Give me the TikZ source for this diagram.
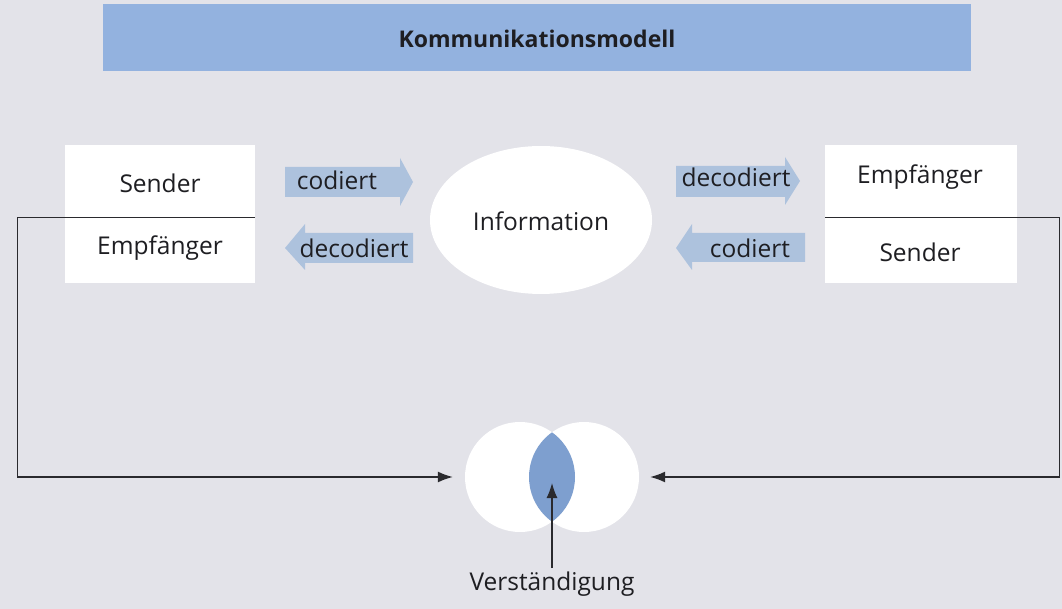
\documentclass[tikz,border=0pt]{standalone}
\usepackage{fontspec}
\setmainfont{Open Sans}
\usetikzlibrary{arrows.meta}
\definecolor{bgc}{HTML}{E3E3E9}
\definecolor{barc}{HTML}{93B2DF}
\definecolor{arrc}{HTML}{ADC2DD}
\definecolor{lensc}{HTML}{7E9FCF}
\definecolor{txtc}{HTML}{1E1E22}
\definecolor{linec}{HTML}{2A2A2E}
\tikzset{
  lbl/.style={anchor=base, inner sep=0pt, text=txtc, font=\fontsize{24.5}{29}\selectfont},
  ttl/.style={anchor=base, inner sep=0pt, text=txtc, font=\bfseries\fontsize{23}{28}\selectfont},
  boxhalf/.style={rectangle, fill=white, draw=none, minimum width=190pt, inner sep=0pt},
  conn/.style={draw=linec, line width=1.3pt},
  tip/.style={-{Latex[length=15pt, width=11pt]}},
  blob/.style={circle, fill=white, minimum size=110pt, inner sep=0pt},
  flow/.style={fill=arrc, draw=none}
}
\begin{document}
\begin{tikzpicture}[x=1pt, y=-1pt]
\useasboundingbox (0,0) rectangle (1062,609);
\fill[bgc] (0,0) rectangle (1062,609);
% title bar
\node[rectangle, fill=barc, minimum width=868pt, minimum height=67pt, inner sep=0pt] (bar) at (537,38) {};
\node[ttl] (title) at (537,48) {Kommunikationsmodell};
% boxes
\node[boxhalf, minimum height=72pt] (ltop) at (160,181) {};
\node[boxhalf, minimum height=66pt] (lbot) at (160,250) {};
\node[boxhalf, minimum width=192pt, minimum height=72pt] (rtop) at (921,181) {};
\node[boxhalf, minimum width=192pt, minimum height=66pt] (rbot) at (921,250) {};
\node[lbl] (lsender) at (160,193) {Sender};
\node[lbl] (lempf) at (160,255) {Empfänger};
\node[lbl] (rempf) at (920,184) {Empfänger};
\node[lbl] (rsender) at (920,262) {Sender};
% information ellipse
\fill[white] (541,220) ellipse [x radius=111, y radius=74];
\node[lbl] (info) at (541,231) {Information};
% flow arrows
\fill[flow] (285,167) -- (400,167) -- (400,158) -- (413,182) -- (400,206) -- (400,197) -- (285,197) -- cycle;
\fill[flow] (413,233) -- (305,233) -- (305,224) -- (285,248) -- (305,270) -- (305,263) -- (413,263) -- cycle;
\fill[flow] (676,166) -- (785,166) -- (785,157) -- (800,181) -- (785,205) -- (785,197) -- (676,197) -- cycle;
\fill[flow] (805,233) -- (692,233) -- (692,224) -- (676,248) -- (692,270) -- (692,262) -- (805,262) -- cycle;
\node[lbl] (lcod) at (337,190) {codiert};
\node[lbl] (ldec) at (354,258) {decodiert};
\node[lbl] (rdec) at (736,187) {decodiert};
\node[lbl] (rcod) at (750,258) {codiert};
% overlap circles
\node[blob] (lc) at (520,477) {};
\node[blob] (rc) at (584,477) {};
\begin{scope}
  \clip (lc.center) circle (55);
  \fill[lensc] (rc.center) circle (55);
\end{scope}
% connectors
\draw[conn, tip, shorten >=12pt] (ltop.south east) -- (ltop.south west) -- ++(-47,0) |- (lc.west);
\draw[conn, tip, shorten >=11pt] (rtop.south west) -- (rtop.south east) -- ++(42,0) |- (rc.east);
\node[lbl] (verst) at (552,590) {Verständigung};
\coordinate (lenstip) at (552,483);
\draw[conn, tip, shorten <=3pt] (verst.north) -- (lenstip);
\end{tikzpicture}
\end{document}
